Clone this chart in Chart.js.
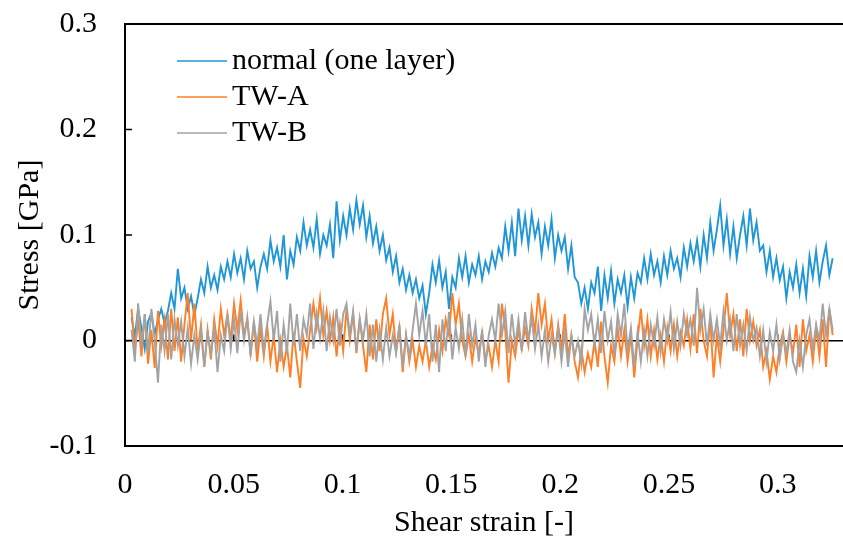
<!DOCTYPE html>
<html>
<head>
<meta charset="utf-8">
<script src="https://cdn.jsdelivr.net/npm/chart.js@4.4.1/dist/chart.umd.min.js"></script>
<style>
  html, body { margin: 0; padding: 0; background: #fff; }
  #wrap { width: 843px; height: 545px; position: relative; }
</style>
</head>
<body>
<div id="wrap"><canvas id="stressChart"></canvas></div>
<script>
/* -- Data ------------------------------------------------------------ */
const SERIES_NAMES = ["normal (one layer)", "TW-A", "TW-B"];
const SERIES_COLORS = ["#2196d6", "#ff7f27", "#a3a3a3"];

// samples are evenly spaced in shear strain
const STRAIN_START = 0.003;
const STRAIN_STEP = 0.00152;

const X_TICKS = [0, 0.05, 0.1, 0.15, 0.2, 0.25, 0.3];
const Y_TICKS = [-0.1, 0, 0.1, 0.2, 0.3];

const normal = [
  0.022, 0.004, 0.03, 0.012, -0.008, 0.018, 0.026, 0.006, 0.02, 0.03,
  0.016, 0.028, 0.045, 0.03, 0.068, 0.04, 0.05, 0.03, 0.042, 0.024,
  0.04, 0.058, 0.045, 0.07, 0.05, 0.062, 0.048, 0.07, 0.058, 0.075,
  0.06, 0.082, 0.064, 0.078, 0.058, 0.085, 0.068, 0.075, 0.05, 0.07,
  0.082, 0.068, 0.095, 0.075, 0.088, 0.07, 0.1, 0.058, 0.085, 0.072,
  0.098, 0.085, 0.112, 0.09, 0.105, 0.088, 0.115, 0.082, 0.1, 0.09,
  0.11, 0.078, 0.132, 0.095, 0.118, 0.1, 0.125, 0.105, 0.133, 0.11,
  0.128, 0.098, 0.118, 0.092, 0.108, 0.085, 0.1, 0.076, 0.088, 0.065,
  0.08, 0.055, 0.068, 0.048, 0.062, 0.045, 0.058, 0.04, 0.052, 0.025,
  0.045, 0.072, 0.055, 0.076, 0.05, 0.065, 0.03, 0.06, 0.05, 0.078,
  0.06, 0.08, 0.055, 0.072, 0.062, 0.08, 0.058, 0.075, 0.065, 0.083,
  0.07, 0.088, 0.078, 0.108, 0.085, 0.112, 0.08, 0.125, 0.095, 0.118,
  0.09, 0.12, 0.098, 0.112, 0.082, 0.108, 0.09, 0.115, 0.078, 0.1,
  0.085, 0.098, 0.068, 0.09, 0.06, 0.055, 0.035, 0.05, 0.03, 0.055,
  0.045, 0.07, 0.028, 0.062, 0.04, 0.066, 0.035, 0.058, 0.045, 0.062,
  0.032, 0.06, 0.04, 0.064, 0.055, 0.078, 0.058, 0.082, 0.062, 0.075,
  0.055, 0.08, 0.062, 0.085, 0.068, 0.078, 0.06, 0.088, 0.07, 0.092,
  0.075, 0.095, 0.07, 0.1, 0.078, 0.112, 0.085, 0.105, 0.128, 0.09,
  0.115, 0.082, 0.108, 0.078, 0.1, 0.118, 0.09, 0.125, 0.095, 0.112,
  0.085, 0.09, 0.065, 0.085, 0.06, 0.078, 0.057, 0.07, 0.04, 0.065,
  0.05, 0.072, 0.045, 0.068, 0.042, 0.08, 0.06, 0.085, 0.055, 0.075,
  0.09, 0.062, 0.078
];

const twA = [
  0.03, -0.01, 0.02, -0.015, 0.025, -0.022, 0.01, -0.026, 0.028, -0.005,
  0.02, -0.018, 0.03, -0.01, 0.022, -0.02, 0.015, 0.045, 0.0, 0.035,
  -0.01, 0.015, -0.025, 0.01, -0.018, 0.02, -0.005, 0.03, 0.005, 0.025,
  0.0, 0.035, 0.01, 0.038, 0.005, 0.02, -0.012, 0.018, -0.02, 0.012,
  -0.015, 0.015, -0.02, 0.005, -0.03, 0.0, -0.025, -0.005, -0.035, 0.008,
  -0.02, -0.045, 0.002, -0.015, 0.01, 0.035, 0.012, 0.04, 0.005, 0.028,
  0.0, 0.022, -0.015, 0.015, -0.01, 0.03, 0.0, 0.025, -0.012, 0.02,
  -0.005, -0.03, 0.015, -0.018, 0.02, -0.01, 0.025, 0.04, 0.005, 0.025,
  -0.01, 0.012, -0.03, 0.005, -0.02, 0.0, -0.025, -0.005, -0.02, 0.0,
  -0.025, -0.005, -0.018, 0.01, -0.01, 0.02, 0.005, 0.045, 0.015, 0.035,
  0.0, -0.015, 0.005, -0.02, 0.002, -0.012, 0.008, -0.018, -0.005, -0.025,
  0.0, -0.02, 0.035, 0.01, -0.04, 0.0, -0.015, 0.01, -0.008, 0.012,
  -0.005, 0.03, 0.008, 0.045, 0.015, 0.035, 0.0, 0.02, -0.012, 0.015,
  -0.01, 0.025, -0.015, 0.005, -0.02, -0.035, -0.008, -0.03, -0.012, -0.025,
  0.0, -0.025, 0.018, -0.015, -0.04, -0.005, -0.02, 0.012, -0.015, 0.01,
  -0.02, 0.005, -0.035, 0.0, 0.03, -0.005, 0.02, -0.015, 0.01, -0.018,
  0.005, -0.02, 0.012, -0.01, 0.015, -0.015, 0.008, -0.005, 0.02, -0.008,
  0.025, -0.012, 0.03, 0.0, -0.015, 0.02, -0.035, 0.005, -0.02, 0.01,
  0.045, 0.005, 0.025, -0.01, 0.02, -0.015, 0.03, 0.0, 0.018, -0.005,
  0.01, -0.025, -0.01, -0.037, -0.015, -0.03, -0.005, 0.008, -0.02, 0.005,
  -0.012, 0.015, -0.025, 0.02, -0.01, 0.005, -0.02, 0.012, -0.015, 0.02,
  -0.025, 0.03, 0.005
];

const twB = [
  0.01, -0.02, 0.035, -0.005, 0.025, -0.012, 0.03, 0.0, -0.04, 0.015,
  -0.01, 0.025, -0.018, 0.02, -0.005, 0.018, -0.015, 0.012, -0.022, 0.005,
  -0.018, 0.01, -0.025, 0.008, -0.012, 0.012, -0.03, 0.005, -0.01, 0.025,
  -0.008, 0.02, -0.012, 0.028, 0.0, 0.022, -0.015, 0.018, -0.005, 0.025,
  -0.01, 0.015, 0.037, 0.0, 0.028, -0.02, 0.015, -0.012, 0.035, -0.005,
  0.025, -0.01, 0.02, 0.005, 0.035, -0.008, 0.025, 0.002, 0.028, -0.01,
  0.022, 0.0, 0.03, -0.005, 0.025, 0.035, 0.005, 0.028, -0.01, 0.02,
  0.0, 0.025, -0.015, 0.015, -0.02, 0.01, -0.018, 0.012, -0.015, 0.005,
  -0.012, 0.015, -0.025, 0.005, -0.015, 0.01, 0.035, 0.005, 0.028, -0.005,
  0.025, -0.02, 0.015, -0.03, 0.02, -0.01, 0.027, -0.018, 0.012, -0.008,
  0.02, -0.015, 0.025, -0.005, 0.015, -0.02, 0.01, -0.025, 0.005, 0.02,
  0.0, 0.035, 0.005, 0.028, -0.012, 0.025, -0.005, 0.02, -0.01, 0.027,
  0.0, 0.022, -0.008, 0.015, -0.015, 0.01, -0.02, 0.005, -0.012, 0.012,
  -0.02, 0.008, -0.025, 0.005, -0.015, 0.0, -0.022, 0.03, 0.01, 0.025,
  -0.005, 0.02, -0.012, 0.028, 0.0, 0.018, -0.015, 0.025, 0.005, 0.035,
  -0.01, 0.012, -0.025, 0.008, -0.02, 0.01, -0.015, 0.015, -0.005, 0.022,
  -0.01, 0.02, 0.0, 0.027, -0.008, 0.018, -0.005, 0.025, 0.005, 0.02,
  -0.005, 0.05, 0.01, 0.03, -0.005, 0.025, 0.0, 0.02, -0.005, 0.028,
  0.0, 0.02, -0.01, 0.025, -0.005, 0.015, -0.01, 0.022, 0.0, 0.012,
  -0.015, 0.01, -0.02, 0.008, -0.01, 0.015, -0.018, 0.005, -0.012, 0.01,
  -0.02, -0.03, 0.0, -0.025, 0.005, 0.02, -0.008, 0.015, 0.0, 0.035,
  0.005, 0.03, 0.01
];

/* -- Helpers --------------------------------------------------------- */
const toPoints = values =>
  values.map((v, i) => ({ x: STRAIN_START + i * STRAIN_STEP, y: v }));

const fmt = v => String(Number(v.toFixed(3)));

Chart.defaults.font.family = "'Liberation Serif', 'Times New Roman', serif";
Chart.defaults.font.size = 30;
Chart.defaults.color = "#000";

/* -- Plugins: frame, zero-line ticks, legend -------------------------- */
const zeroTicks = {
  id: "zeroTicks",
  beforeDatasetsDraw(chart) {
    const { ctx, scales: { x, y } } = chart;
    const y0 = y.getPixelForValue(0);
    ctx.save();
    ctx.strokeStyle = "#000";
    ctx.lineWidth = 1.5;
    ctx.beginPath();
    X_TICKS.forEach(v => {
      const px = x.getPixelForValue(v);
      ctx.moveTo(px, y0);
      ctx.lineTo(px, y0 - 6);
    });
    ctx.stroke();
    ctx.restore();
  }
};

const frame = {
  id: "frame",
  afterDraw(chart) {
    const { ctx, chartArea: a, scales: { y } } = chart;
    ctx.save();
    ctx.strokeStyle = "#000";
    ctx.lineWidth = 2;
    ctx.beginPath();
    ctx.moveTo(a.right, a.top);
    ctx.lineTo(a.left, a.top);
    ctx.lineTo(a.left, a.bottom);
    ctx.lineTo(a.right, a.bottom);
    ctx.stroke();

    ctx.lineWidth = 1.5;
    ctx.beginPath();
    Y_TICKS.forEach(v => {
      const py = y.getPixelForValue(v);
      ctx.moveTo(a.left, py);
      ctx.lineTo(a.left + 7, py);
    });
    ctx.stroke();
    ctx.restore();
  }
};

const insideLegend = {
  id: "insideLegend",
  afterDraw(chart) {
    const { ctx, chartArea: a } = chart;
    ctx.save();
    ctx.font = "30px 'Liberation Serif', 'Times New Roman', serif";
    ctx.textBaseline = "middle";
    ctx.textAlign = "left";
    chart.data.datasets.forEach((ds, i) => {
      const rowY = a.top + 37 + i * 36;
      ctx.strokeStyle = ds.borderColor;
      ctx.lineWidth = 1.5;
      ctx.beginPath();
      ctx.moveTo(a.left + 52, rowY);
      ctx.lineTo(a.left + 102, rowY);
      ctx.stroke();
      ctx.fillStyle = "#000";
      ctx.fillText(ds.label, a.left + 107, rowY);
    });
    ctx.restore();
  }
};

/* -- Chart ------------------------------------------------------------ */
const seriesValues = [normal, twA, twB];

new Chart(document.getElementById("stressChart"), {
  type: "line",
  data: {
    datasets: seriesValues.map((vals, i) => ({
      label: SERIES_NAMES[i],
      data: toPoints(vals),
      borderColor: SERIES_COLORS[i],
      borderWidth: 1.9,
      pointRadius: 0,
      tension: 0,
      fill: false,
      order: seriesValues.length - 1 - i, // later series drawn on top
    })),
  },
  options: {
    responsive: true,
    maintainAspectRatio: false,
    animation: false,
    layout: { padding: { top: 24, right: 0, bottom: 0, left: 0 } },
    plugins: {
      legend: { display: false },
      tooltip: { enabled: false },
    },
    scales: {
      x: {
        type: "linear",
        min: 0,
        max: 0.33,
        afterBuildTicks: s => { s.ticks = X_TICKS.map(v => ({ value: v })); },
        afterFit: s => { s.height = 99; },
        grid: { display: false },
        border: { display: false },
        ticks: { padding: 13, maxRotation: 0, callback: v => fmt(v) },
        title: {
          display: true,
          text: "Shear strain [-]",
          padding: { top: 0, bottom: 4 },
        },
      },
      y: {
        min: -0.1,
        max: 0.3,
        afterBuildTicks: s => { s.ticks = Y_TICKS.map(v => ({ value: v })); },
        afterFit: s => { s.width = 125; s.paddingTop = 0; s.paddingBottom = 0; },
        grid: {
          drawTicks: false,
          lineWidth: 1.5,
          color: c => (c.tick && c.tick.value === 0 ? "#000" : "rgba(0,0,0,0)"),
        },
        border: { display: false },
        ticks: { padding: 28, callback: v => fmt(v) },
        title: {
          display: true,
          text: "Stress [GPa]",
          padding: { top: 12, bottom: 0 },
        },
      },
    },
  },
  plugins: [zeroTicks, frame, insideLegend],
});
</script>
</body>
</html>
